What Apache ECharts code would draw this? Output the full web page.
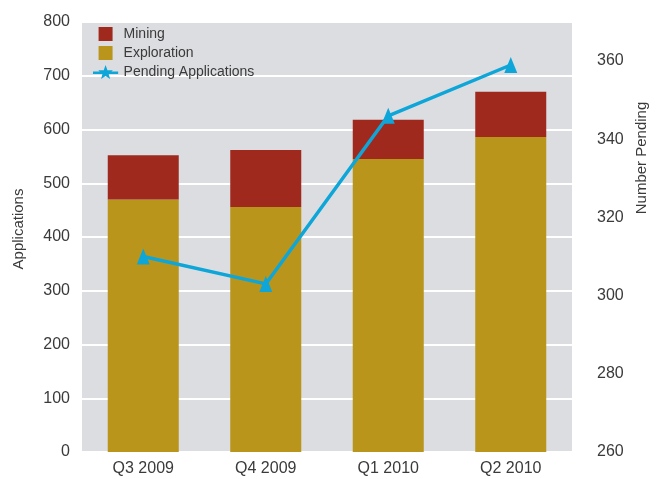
<!DOCTYPE html>
<html>
<head>
<meta charset="utf-8">
<script src="https://cdn.jsdelivr.net/npm/echarts@6/dist/echarts.min.js"></script>
<style>
  html, body { margin: 0; padding: 0; background: #fff; }
  #chart { width: 666px; height: 479px; }
</style>
</head>
<body>
<div id="chart"></div>
<script>
const quarters = ["Q3 2009", "Q4 2009", "Q1 2010", "Q2 2010"];
const exploration = [470, 456, 545, 586];
const mining = [82, 106, 73, 84];
const pending = [310, 303, 346, 359];

// legend star with a line through it, 26x15 box
function starIcon() {
  const cx = 13, cy = 8, R = 8, r = 3.3;
  let d = "M0,6.8L26,6.8L26,9.2L0,9.2Z M";
  for (let i = 0; i < 10; i++) {
    const a = (-90 + i * 36) * Math.PI / 180;
    const rad = i % 2 === 0 ? R : r;
    d += (cx + rad * Math.cos(a)).toFixed(2) + "," + (cy + rad * Math.sin(a)).toFixed(2) + (i < 9 ? "L" : "Z");
  }
  return "path://" + d;
}
const squareIcon = "path://M0,0L10,0L10,10L0,10Z";

const font = "Liberation Sans";
const textColor = "#3a3a3a";

const chart = echarts.init(document.getElementById("chart"));
chart.setOption({
  backgroundColor: "#fff",
  textStyle: { fontFamily: font },
  grid: {
    left: 82,
    right: 94,
    top: 22,
    bottom: 27,
    show: true,
    backgroundColor: "#dcdde0",
    borderWidth: 0
  },
  legend: {
    orient: "vertical",
    left: 88,
    top: 22,
    itemWidth: 26,
    itemHeight: 14,
    itemGap: 5,
    textStyle: { fontSize: 14, color: textColor, fontFamily: font },
    data: [
      { name: "Mining", icon: squareIcon },
      { name: "Exploration", icon: squareIcon },
      { name: "Pending Applications", icon: starIcon() }
    ]
  },
  xAxis: {
    type: "category",
    data: quarters,
    axisLine: { show: false },
    axisTick: { show: false },
    axisLabel: { fontSize: 16, color: textColor, margin: 9, fontFamily: font }
  },
  yAxis: [
    {
      type: "value",
      min: 0,
      max: 800,
      interval: 100,
      name: "Applications",
      nameLocation: "middle",
      nameGap: 56,
      nameTextStyle: { fontSize: 15, color: textColor, fontFamily: font, padding: [0, 0, 0, 16] },
      axisLine: { show: false },
      axisTick: { show: false },
      axisLabel: { fontSize: 16, color: textColor, margin: 12, fontFamily: font },
      splitLine: { lineStyle: { color: "#ffffff", width: 2 } }
    },
    {
      type: "value",
      min: 260,
      max: 370,
      interval: 20,
      position: "right",
      name: "Number Pending",
      nameLocation: "middle",
      nameGap: 61,
      nameTextStyle: { fontSize: 15, color: textColor, fontFamily: font, padding: [0, 0, 0, 158] },
      axisLine: { show: false },
      axisTick: { show: false },
      axisLabel: { fontSize: 16, color: textColor, margin: 25, fontFamily: font, showMaxLabel: false },
      splitLine: { show: false }
    }
  ],
  series: [
    {
      name: "Exploration",
      type: "bar",
      stack: "apps",
      barWidth: 71,
      data: exploration,
      itemStyle: { color: "#b9951b" }
    },
    {
      name: "Mining",
      type: "bar",
      stack: "apps",
      barWidth: 71,
      data: mining,
      itemStyle: { color: "#a0291e" }
    },
    {
      name: "Pending Applications",
      type: "line",
      yAxisIndex: 1,
      data: pending,
      symbol: "triangle",
      symbolSize: [13, 16],
      lineStyle: { color: "#0ea6d8", width: 3.5 },
      itemStyle: { color: "#0ea6d8" },
      z: 5
    }
  ]
});
</script>
</body>
</html>
